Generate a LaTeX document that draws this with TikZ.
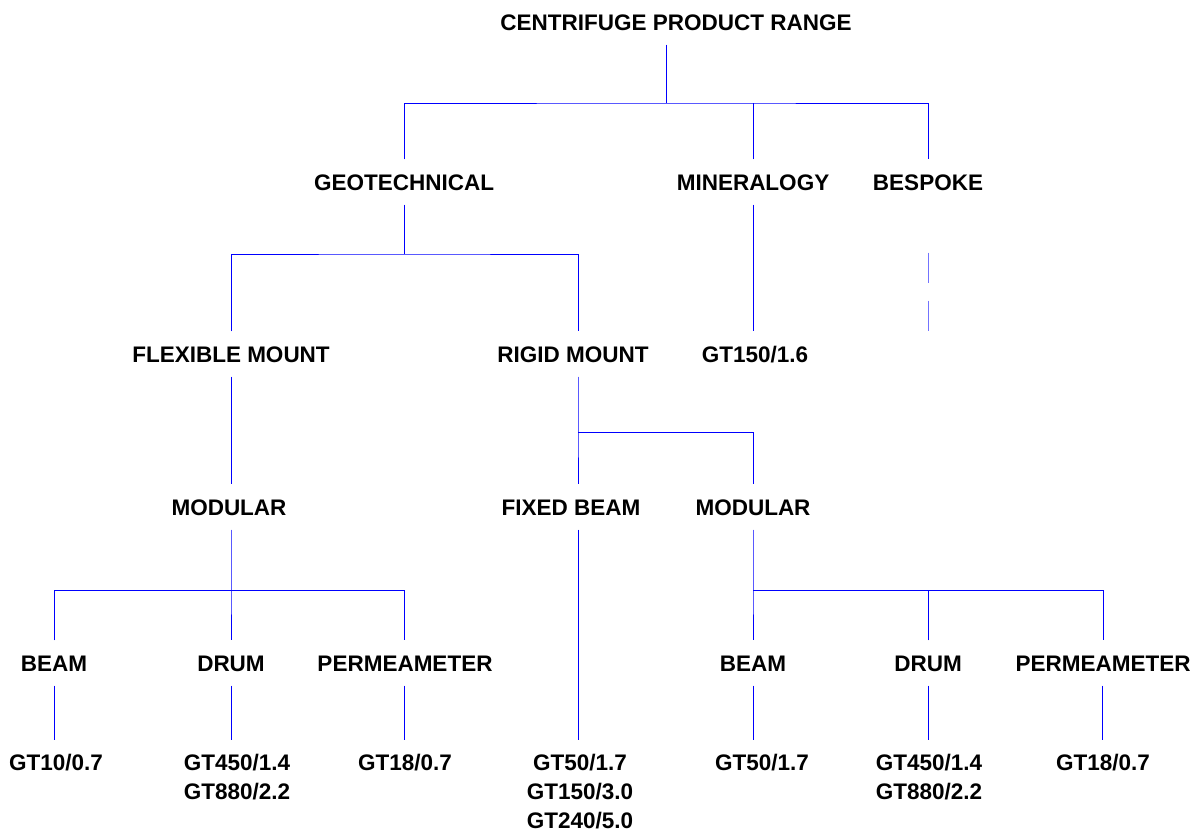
\documentclass[tikz,border=0pt]{standalone}
\usepackage{fontspec}
\setmainfont{Liberation Sans}

\begin{document}
\begin{tikzpicture}[x=1pt,y=-1pt,
    item/.style={font=\bfseries\fontsize{22.5}{29}\selectfont, inner xsep=0pt, inner ysep=14pt, text height=17pt, text depth=0pt},
    model/.style={font=\bfseries\fontsize{22.5}{29}\selectfont, inner xsep=0pt, inner ysep=14pt, align=center, anchor=north},
    link/.style={draw=blue, line width=1pt}]
    \useasboundingbox[fill=white](0,0) rectangle (1202,831);

    % titles
    \node[item](title) at (676,22) {CENTRIFUGE PRODUCT RANGE};
    \node[item](geo) at (404,182) {GEOTECHNICAL};
    \node[item](mineral) at (753,182) {MINERALOGY};
    \node[item](bespoke) at (928,182) {BESPOKE};
    \node[item](flex) at (231,354) {FLEXIBLE MOUNT};
    \node[item](rigid) at (573,354) {RIGID MOUNT};
    \node[item](gtmin) at (755,354) {GT150/1.6};
    \node[item](modL) at (229,507) {MODULAR};
    \node[item](fixed) at (571,507) {FIXED BEAM};
    \node[item](modR) at (753,507) {MODULAR};
    \node[item](beamL) at (54,663) {BEAM};
    \node[item](drumL) at (231,663) {DRUM};
    \node[item](permL) at (405,663) {PERMEAMETER};
    \node[item](beamR) at (753,663) {BEAM};
    \node[item](drumR) at (928,663) {DRUM};
    \node[item](permR) at (1103,663) {PERMEAMETER};

    % models
    \node[model](gtbeamL) at (56,740) {GT10/0.7};
    \node[model](gtdrumL) at (237,740) {GT450/1.4\\GT880/2.2};
    \node[model](gtpermL) at (405,740) {GT18/0.7};
    \node[model](gtfixed) at (580,740) {GT50/1.7\\GT150/3.0\\GT240/5.0};
    \node[model](gtbeamR) at (762,740) {GT50/1.7};
    \node[model](gtdrumR) at (929,740) {GT450/1.4\\GT880/2.2};
    \node[model](gtpermR) at (1103,740) {GT18/0.7};

    % bus points
    \coordinate(bus1) at (666,103);
    \coordinate(bus2) at (404,254);
    \coordinate(bus3) at (578,432);
    \coordinate(bus4) at (231,590);
    \coordinate(bus5) at (753,590);

    % connectors
    \draw[link]([xshift=-10pt]title.south)--(bus1);
    \draw[link](geo.north)|-(bus1)-|(bespoke.north);
    \draw[link](mineral.north)--(mineral.north|-bus1);

    \draw[link](geo.south)--(bus2);
    \draw[link](flex.north)|-(bus2)-|([xshift=5pt]rigid.north);
    \draw[link](mineral.south)--(mineral.south|-gtmin.north);
    \draw[link,draw=blue!55,shorten <=48pt,dash pattern=on 30pt off 18pt](bespoke.south)--(bespoke.south|-gtmin.north);

    \draw[link](flex.south)--(flex.south|-modL.north);
    \draw[link]([xshift=5pt]rigid.south)--(bus3)--([xshift=7pt]fixed.north);
    \draw[link](bus3)-|(modR.north);

    \draw[link]([xshift=2pt]modL.south)--(bus4)--(drumL.north);
    \draw[link](beamL.north)|-(bus4)-|([xshift=-1pt]permL.north);
    \draw[link](modR.south)--(bus5)--(beamR.north);
    \draw[link](bus5)-|(permR.north);
    \draw[link](drumR.north)--(drumR.north|-bus5);
    \draw[link]([xshift=7pt]fixed.south)--([xshift=7pt]fixed.south|-gtfixed.north);

    \draw[link](beamL.south)--(beamL.south|-gtbeamL.north);
    \draw[link](drumL.south)--(drumL.south|-gtdrumL.north);
    \draw[link]([xshift=-1pt]permL.south)--([xshift=-1pt]permL.south|-gtpermL.north);
    \draw[link](beamR.south)--(beamR.south|-gtbeamR.north);
    \draw[link](drumR.south)--(drumR.south|-gtdrumR.north);
    \draw[link]([xshift=-1pt]permR.south)--([xshift=-1pt]permR.south|-gtpermR.north);
\end{tikzpicture}
\end{document}
